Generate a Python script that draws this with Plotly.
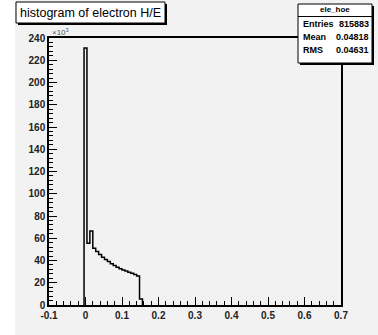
import plotly.graph_objects as go

# ---- data (values in units of 10^3 entries) ----
bin_left_edges = [-0.004, 0.004, 0.012, 0.020, 0.028, 0.036, 0.044, 0.052, 0.060, 0.068,
                  0.076, 0.084, 0.092, 0.100, 0.108, 0.116, 0.124, 0.132, 0.140, 0.148]
bin_width = 0.008
counts_k = [231, 55.5, 66.5, 51, 48, 45.5, 43, 41, 39, 37,
            35.5, 34, 32.5, 31.5, 30.5, 29.5, 28.5, 27.5, 26, 5.5]
x_tick_vals = [-0.1, 0, 0.1, 0.2, 0.3, 0.4, 0.5, 0.6, 0.7]
x_tick_text = ["-0.1", "0", "0.1", "0.2", "0.3", "0.4", "0.5", "0.6", "0.7"]
y_tick_vals = [0, 20, 40, 60, 80, 100, 120, 140, 160, 180, 200, 220, 240]
title_text = "histogram of electron H/E"
stats_title = "ele_hoe"
stats_labels = ["Entries", "Mean", "RMS"]
stats_values = ["815883", "0.04818", "0.04631"]

W, H = 378, 335
L, R, T, B = 49, 341, 38, 305  # plot frame in pixels

def px(x):
    return (x - L) / (R - L)

def py(y):
    return (B - y) / (B - T)

end_edge = bin_left_edges[-1] + bin_width
xs = [bin_left_edges[0]] + bin_left_edges + [end_edge]
ys = [0] + counts_k + [0]

FONT = "Liberation Sans, Arial, sans-serif"
GRAY = "#f2f2f2"

fig = go.Figure()
fig.add_trace(go.Scatter(x=xs, y=ys, mode="lines", line=dict(shape="hv", color="black", width=1.5),
                         hoverinfo="skip", showlegend=False))

shapes = [
    # gray canvas
    dict(type="rect", xref="paper", yref="paper", x0=px(15), x1=px(W + 2), y0=py(H + 2), y1=py(-2),
         fillcolor=GRAY, line=dict(width=0), layer="below"),
    # title box shadow + box
    dict(type="rect", xref="paper", yref="paper", x0=px(18), x1=px(167), y0=py(25), y1=py(4),
         fillcolor="black", line=dict(width=0)),
    dict(type="rect", xref="paper", yref="paper", x0=px(16), x1=px(165), y0=py(23), y1=py(2),
         fillcolor="white", line=dict(color="black", width=1)),
    # stats box shadow + box
    dict(type="rect", xref="paper", yref="paper", x0=px(300), x1=px(374), y0=py(65), y1=py(6),
         fillcolor="black", line=dict(width=0)),
    dict(type="rect", xref="paper", yref="paper", x0=px(298), x1=px(372), y0=py(63), y1=py(4),
         fillcolor="white", line=dict(color="black", width=1)),
    dict(type="line", xref="paper", yref="paper", x0=px(298), x1=px(372), y0=py(16.5), y1=py(16.5),
         line=dict(color="black", width=1)),
]

annotations = [
    dict(text=title_text, xref="paper", yref="paper", x=px(90.5), y=py(13), showarrow=False,
         xanchor="center", yanchor="middle", font=dict(family=FONT, size=12.5, color="black")),
    dict(text=stats_title, xref="paper", yref="paper", x=px(335), y=py(10), showarrow=False,
         xanchor="center", yanchor="middle", font=dict(family=FONT, size=8, color="black", weight="bold")),
    dict(text="×10<sup>3</sup>", xref="paper", yref="paper", x=px(50), y=py(32), showarrow=False,
         xanchor="left", yanchor="middle", font=dict(family=FONT, size=8, color="#445566")),
]
row_y = [24, 37, 50]
for lab, val, yy in zip(stats_labels, stats_values, row_y):
    annotations.append(dict(text=lab, xref="paper", yref="paper", x=px(300.5), y=py(yy), showarrow=False,
                            xanchor="left", yanchor="middle",
                            font=dict(family=FONT, size=9, color="black", weight="bold")))
    annotations.append(dict(text=val, xref="paper", yref="paper", x=px(370.5), y=py(yy), showarrow=False,
                            xanchor="right", yanchor="middle",
                            font=dict(family=FONT, size=9, color="black", weight="bold")))

axis_font = dict(family=FONT, size=10, color="#222222", weight="bold")
fig.update_layout(
    width=W, height=H,
    margin=dict(l=L, r=W - R, t=T, b=H - B, pad=0),
    paper_bgcolor="white", plot_bgcolor=GRAY,
    shapes=shapes, annotations=annotations,
    xaxis=dict(range=[-0.1, 0.7], tickvals=x_tick_vals, ticktext=x_tick_text,
               ticks="inside", ticklen=8, tickwidth=1, tickcolor="black",
               minor=dict(dtick=0.02, tick0=-0.1, ticks="inside", ticklen=4, tickwidth=1, tickcolor="black"),
               showgrid=False, zeroline=False, showline=True, linecolor="black", linewidth=1.5,
               mirror=True, tickfont=axis_font, fixedrange=True),
    yaxis=dict(range=[0, 240], tickvals=y_tick_vals,
               ticks="inside", ticklen=8, tickwidth=1, tickcolor="black",
               minor=dict(dtick=4, tick0=0, ticks="inside", ticklen=4, tickwidth=1, tickcolor="black"),
               showgrid=False, zeroline=False, showline=True, linecolor="black", linewidth=1.5,
               mirror=True, tickfont=axis_font, fixedrange=True),
)

fig.write_html("out.html", config={"displayModeBar": False},
               post_script="document.body.style.margin='0';")
